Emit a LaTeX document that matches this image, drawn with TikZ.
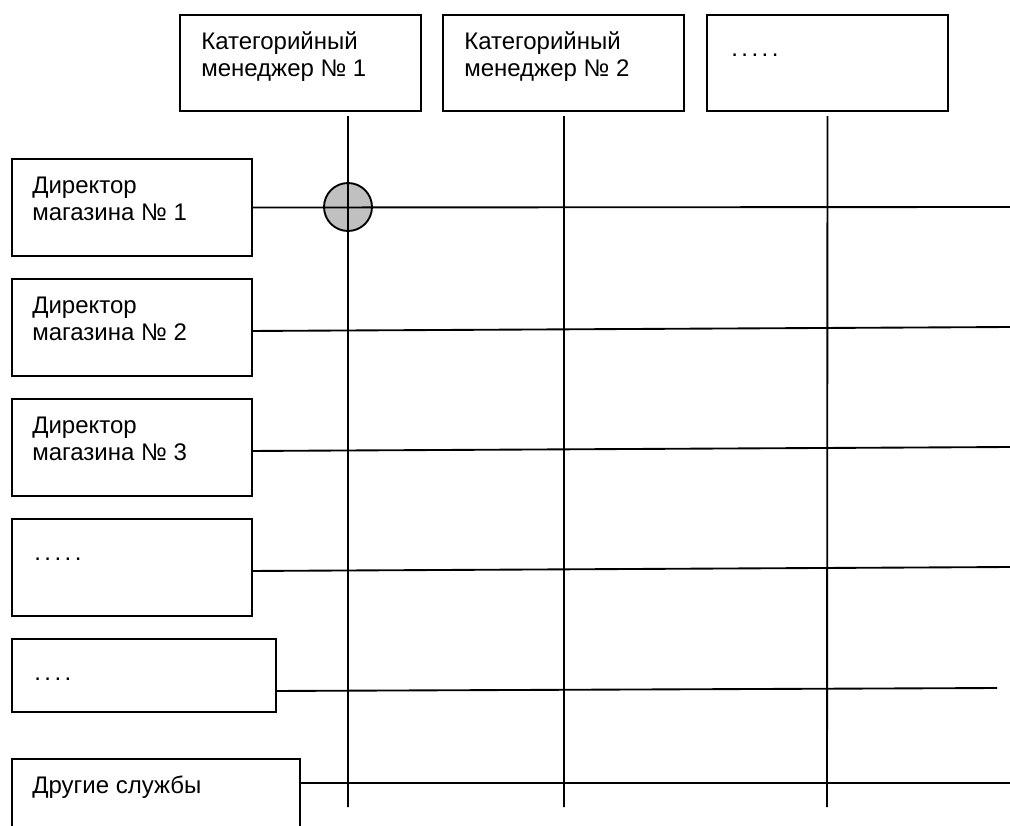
\documentclass[tikz,border=0pt]{standalone}
\usepackage{fontspec}
\setmainfont{Liberation Sans}
\usetikzlibrary{fit}
\definecolor{knot}{RGB}{192,192,192}
\newcommand{\dotrow}[1]{\foreach \i in {1,...,#1}{.\kern2.6pt}}
\begin{document}
\begin{tikzpicture}[x=0.75pt,y=-0.75pt,
  box/.style={draw, rectangle, inner sep=0pt, line width=1.5pt},
  lbl/.style={anchor=base west, inner sep=0pt, align=left,
    font=\fontsize{18}{20.25}\selectfont},
  dots/.style={anchor=base west, inner sep=0pt, font=\fontsize{18}{20.25}\selectfont},
  conn/.style={draw, line width=1.4pt},
  knotc/.style={circle, draw, fill=knot, line width=1.4pt, inner sep=0pt, minimum size=36pt}]
\useasboundingbox (0,0) rectangle (1010,825);

% circle (drawn first, lines pass over it)
\node[knotc] (k) at (348,207) {};

% top boxes
\node[box, fit={(180,15) (421,111)}] (m1) {};
\node[box, fit={(443,15) (684,111)}] (m2) {};
\node[box, fit={(707,15) (948,111)}] (m3) {};
\node[lbl] (tm1) at (201,76) {Категорийный\\менеджер № 1};
\node[lbl] (tm2) at (464,76) {Категорийный\\менеджер № 2};
\node[dots] (tm3) at (731,56) {\dotrow{5}};

% left boxes
\node[box, fit={(12,159) (252,256)}] (d1) {};
\node[box, fit={(12,279) (252,376)}] (d2) {};
\node[box, fit={(12,399) (252,496)}] (d3) {};
\node[box, fit={(12,519) (252,616)}] (d4) {};
\node[box, fit={(12,639) (276,712)}] (d5) {};
\node[box, fit={(12,759) (300,850)}] (d6) {};
\node[lbl] (td1) at (32,220) {Директор\\магазина № 1};
\node[lbl] (td2) at (32,340) {Директор\\магазина № 2};
\node[lbl] (td3) at (32,460) {Директор\\магазина № 3};
\node[dots] (td4) at (34,560) {\dotrow{5}};
\node[dots] (td5) at (34,680) {\dotrow{4}};
\node[lbl] (td6) at (32,793) {Другие службы};

% free ends
\coordinate (v1) at (348,807);
\coordinate (v2) at (564,807);
\coordinate (v3) at (827,807);
\coordinate (h1) at (1010,207);
\coordinate (h2) at (1010,327);
\coordinate (h3) at (1010,447);
\coordinate (h4) at (1010,567);
\coordinate (h5) at (997,688);
\coordinate (h6) at (1010,783);

% vertical connectors
\draw[conn] ([xshift=35.6pt,yshift=-3pt]m1.south) -- (v1);
\draw[conn] ([xshift=0.4pt,yshift=-3pt]m2.south) -- (v2);
\draw[conn] ([yshift=-3pt]m3.south) -- (v3);

% horizontal connectors
\draw[conn] (d1.east) -- (h1);
\draw[conn] ([yshift=-2.6pt]d2.east) -- (h2);
\draw[conn] ([yshift=-2.6pt]d3.east) -- (h3);
\draw[conn] ([yshift=-2.6pt]d4.east) -- (h4);
\draw[conn] ([yshift=-11.6pt]d5.east) -- (h5);
\draw[conn] (d6.east |- h6) -- (h6);
\end{tikzpicture}
\end{document}
